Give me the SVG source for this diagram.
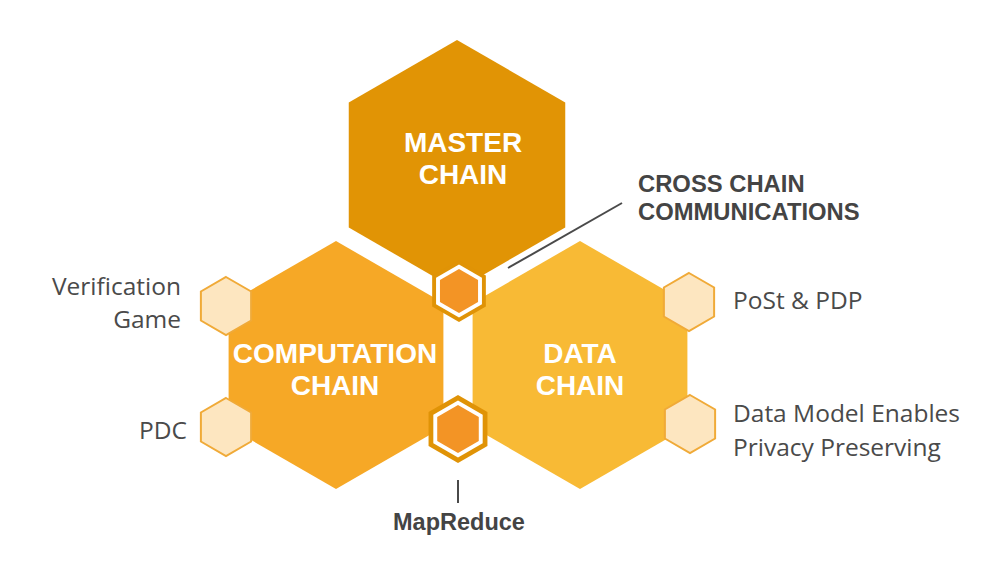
<svg xmlns="http://www.w3.org/2000/svg" width="995" height="581" viewBox="0 0 995 581">
<style>
.big{font-family:"Liberation Sans",Arial,sans-serif;font-weight:bold;font-size:28px;fill:#ffffff;text-anchor:middle}
.lbl{font-family:"Liberation Sans",Arial,sans-serif;font-weight:bold;fill:#444444}
.side{font-family:"Open Sans","Noto Sans",sans-serif;font-size:24.5px;fill:#4a4a4a}
.light{fill:#FDE6C0;stroke:#F0AA38;stroke-width:2}
.ring{fill:#E09306}
.gap{fill:#ffffff}
.core{fill:#F39425}
.conn{stroke:#4a4a4a;stroke-width:2;fill:none}
</style>
<rect width="995" height="581" fill="#ffffff"/>
<g id="master-chain">
<polygon points="457,40 565.25,102.5 565.25,227.5 457,290 348.75,227.5 348.75,102.5" fill="#E19405"/>
<text class="big" x="463" y="152">MASTER</text>
<text class="big" x="463" y="184">CHAIN</text>
</g>
<g id="computation-chain">
<polygon points="336,241 443.4,303 443.4,427 336,489 228.6,427 228.6,303" fill="#F6A826"/>
<text class="big" x="335" y="363">COMPUTATION</text>
<text class="big" x="335" y="395">CHAIN</text>
</g>
<g id="data-chain">
<polygon points="580,241 687.4,303 687.4,427 580,489 472.6,427 472.6,303" fill="#F8BA35"/>
<text class="big" x="580" y="363">DATA</text>
<text class="big" x="580" y="395">CHAIN</text>
</g>
<g id="cross-chain-hex">
<polygon class="ring" points="459,260 485.85,275.5 485.85,306.5 459,322 432.15,306.5 432.15,275.5"/>
<polygon class="gap" points="459,264.5 481.95,277.75 481.95,304.25 459,317.5 436.05,304.25 436.05,277.75"/>
<polygon class="core" points="459,269 478.05,280 478.05,302 459,313 439.950,302 439.95,280"/>
</g>
<g id="mapreduce-hex">
<polygon class="ring" points="458,395 487.44,412 487.44,446 458,463 428.56,446 428.56,412"/>
<polygon class="gap" points="458,400.5 482.68,414.75 482.68,443.25 458,457.5 433.32,443.25 433.32,414.75"/>
<polygon class="core" points="458,405 478.78,417 478.78,441 458,453 437.22,441 437.22,417"/>
</g>
<g id="verification-game">
<polygon class="light" points="226,277 251.11,291.5 251.11,320.5 226,335 200.89,320.5 200.89,291.5"/>
<text class="side" x="181" y="295" text-anchor="end">Verification</text>
<text class="side" x="181" y="328" text-anchor="end">Game</text>
</g>
<g id="pdc">
<polygon class="light" points="226,398 251.11,412.5 251.11,441.5 226,456 200.89,441.5 200.89,412.5"/>
<text class="side" x="187" y="439" text-anchor="end">PDC</text>
</g>
<g id="post-pdp">
<polygon class="light" points="689,273 714.11,287.5 714.11,316.5 689,331 663.89,316.5 663.89,287.5"/>
<text class="side" x="733" y="309">PoSt &amp; PDP</text>
</g>
<g id="data-model">
<polygon class="light" points="690,395 715.11,409.5 715.11,438.5 690,453 664.89,438.5 664.89,409.5"/>
<text class="side" x="733" y="422">Data Model Enables</text>
<text class="side" x="733" y="456">Privacy Preserving</text>
</g>
<g id="connectors">
<line class="conn" x1="508" y1="268" x2="622" y2="203"/>
<line class="conn" x1="458" y1="480" x2="458" y2="503"/>
</g>
<g id="cross-chain-label">
<text class="lbl" font-size="23.8" x="638" y="192">CROSS CHAIN</text>
<text class="lbl" font-size="23.8" x="638" y="220">COMMUNICATIONS</text>
</g>
<g id="mapreduce-label">
<text class="lbl" font-size="23.5" x="459" y="530" text-anchor="middle">MapReduce</text>
</g>
</svg>
